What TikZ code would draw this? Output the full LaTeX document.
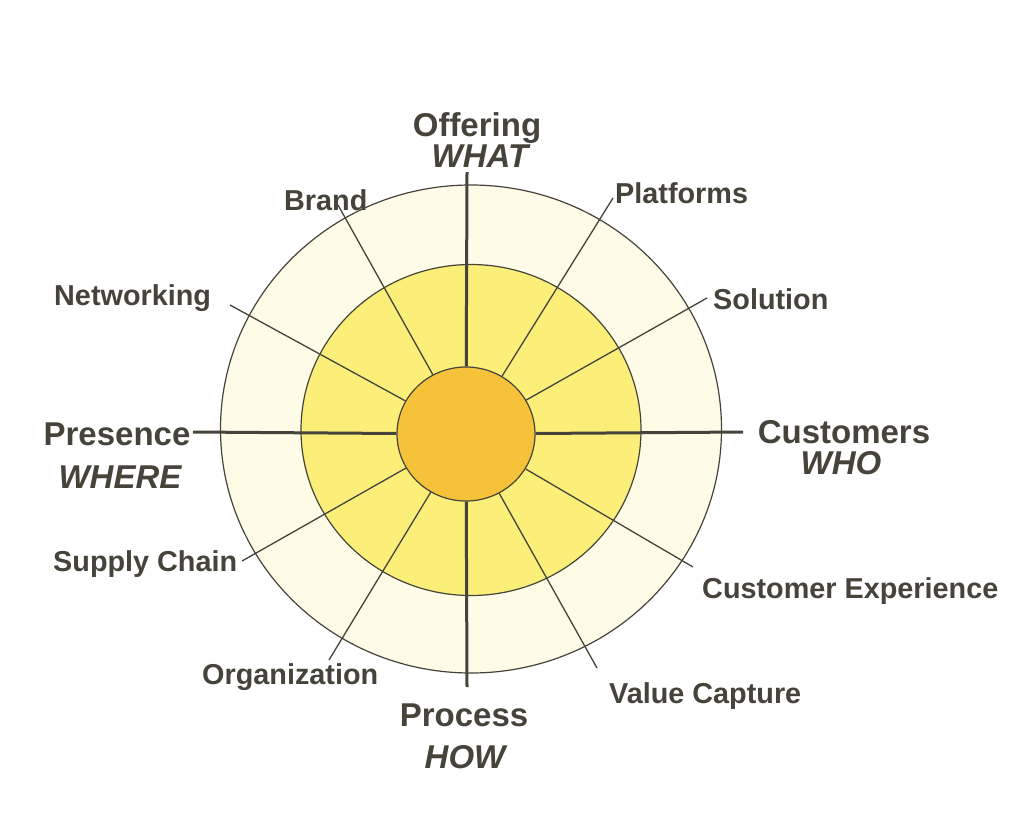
\documentclass[tikz,border=0pt]{standalone}
\usepackage{fontspec}
\setmainfont{Liberation Sans}
\usetikzlibrary{shapes.geometric}
\definecolor{ink}{HTML}{45433A}
\definecolor{pale}{HTML}{FEFCE6}
\definecolor{lemon}{HTML}{FBEF7A}
\definecolor{amber}{HTML}{F6C23A}
\begin{document}
\begin{tikzpicture}[x=1pt, y=-1pt,
  ring/.style={ellipse, draw=ink, line width=1.2pt, inner sep=0pt},
  spoke/.style={draw=ink, line width=1.3pt},
  axis/.style={draw=ink, line width=3pt},
  lab/.style={anchor=base west, text=ink, inner sep=0pt, font=\fontsize{28.8}{32}\selectfont\bfseries},
  big/.style={anchor=base, text=ink, inner sep=0pt, font=\fontsize{33}{38}\selectfont\bfseries}]
\useasboundingbox[fill=white] (0,0) rectangle (1024,836);
\node[ring, fill=pale, minimum width=501pt, minimum height=488pt] (outer) at (471, 429) {};
\node[ring, fill=lemon, minimum width=340pt, minimum height=331pt] (middle) at (471, 430) {};
\node[ring, fill=amber, minimum width=138pt, minimum height=134pt] (inner) at (466, 434) {};
% free ends of the spokes
\coordinate (whatEnd) at (467, 172);
\coordinate (howEnd) at (467, 687);
\coordinate (whereEnd) at (193, 432);
\coordinate (whoEnd) at (743, 432);
\coordinate (brandEnd) at (338, 205);
\coordinate (netEnd) at (230, 305);
\coordinate (platEnd) at (613, 198);
\coordinate (solEnd) at (707, 298);
\coordinate (supEnd) at (242, 561);
\coordinate (orgEnd) at (329, 660);
\coordinate (cxEnd) at (693, 567);
\coordinate (vcEnd) at (597, 668);
\draw[axis] (inner) -- (whatEnd);
\draw[axis] (inner) -- (howEnd);
\draw[axis] (inner) -- (whereEnd);
\draw[axis] (inner) -- (whoEnd);
\draw[spoke] (inner) -- (brandEnd);
\draw[spoke] (inner) -- (netEnd);
\draw[spoke] (inner) -- (platEnd);
\draw[spoke] (inner) -- (solEnd);
\draw[spoke] (inner) -- (supEnd);
\draw[spoke] (inner) -- (orgEnd);
\draw[spoke] (inner) -- (cxEnd);
\draw[spoke] (inner) -- (vcEnd);
% main labels
\node[big] (offering) at (477, 136) {Offering};
\node[big, font=\fontsize{33}{38}\selectfont\bfseries\itshape] (what) at (480, 167) {WHAT};
\node[big] (presence) at (117, 445) {Presence};
\node[big, font=\fontsize{33}{38}\selectfont\bfseries\itshape] (where) at (120, 488) {WHERE};
\node[big] (customers) at (844, 443) {Customers};
\node[big, font=\fontsize{33}{38}\selectfont\bfseries\itshape] (who) at (841, 474) {WHO};
\node[big] (process) at (464, 726) {Process};
\node[big, font=\fontsize{33}{38}\selectfont\bfseries\itshape] (how) at (465, 768) {HOW};
% spoke labels
\node[lab] (brand) at (284, 210) {Brand};
\node[lab] (net) at (54, 305) {Networking};
\node[lab] (plat) at (615, 203) {Platforms};
\node[lab] (sol) at (713, 309) {Solution};
\node[lab] (sup) at (53, 571) {Supply Chain};
\node[lab] (org) at (202, 684) {Organization};
\node[lab] (cx) at (702, 598) {Customer Experience};
\node[lab] (vc) at (609, 703) {Value Capture};
\end{tikzpicture}
\end{document}
